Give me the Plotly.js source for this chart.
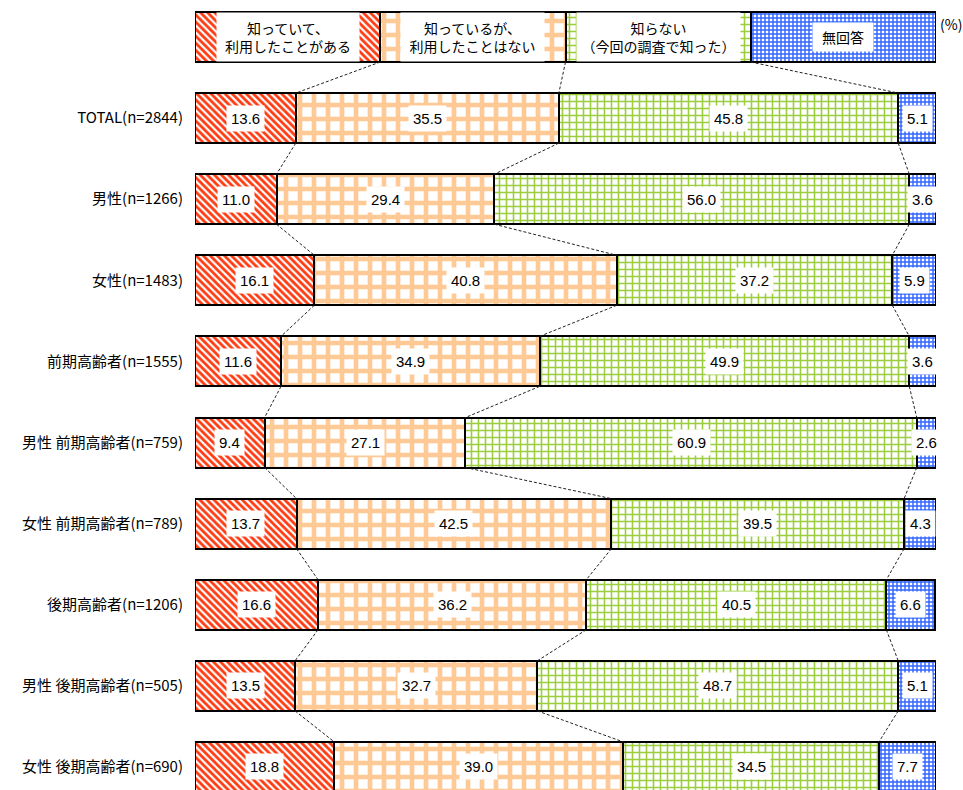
<!DOCTYPE html>
<html>
<head>
<meta charset="utf-8">
<script src="https://cdn.plot.ly/plotly-3.0.1.min.js"></script>
<style>
  body { margin: 0; background: #fff; }
  #chart { width: 963px; height: 790px; }
</style>
</head>
<body>
<div id="chart"></div>
<script>
// rows, top to bottom
var groups = ['TOTAL(n=2844)', '男性(n=1266)', '女性(n=1483)', '前期高齢者(n=1555)',
  '男性 前期高齢者(n=759)', '女性 前期高齢者(n=789)', '後期高齢者(n=1206)',
  '男性 後期高齢者(n=505)', '女性 後期高齢者(n=690)']

var seriesNames = ['知っていて、<br>利用したことがある', '知っているが、<br>利用したことはない',
  '知らない<br>（今回の調査で知った）', '無回答']

var usedIt   = [13.6, 11.0, 16.1, 11.6, 9.4, 13.7, 16.6, 13.5, 18.8]
var knowOnly = [35.5, 29.4, 40.8, 34.9, 27.1, 42.5, 36.2, 32.7, 39.0]
var didntKnow = [45.8, 56.0, 37.2, 49.9, 60.9, 39.5, 40.5, 48.7, 34.5]
var noAnswer = [5.1, 3.6, 5.9, 3.6, 2.6, 4.3, 6.6, 5.1, 7.7]

// the legend is drawn as a stacked row of 4 equal boxes above the bars
var legendShare = 25

var series = [usedIt, knowOnly, didntKnow, noAnswer]

var patterns = [
  {shape: '\\', fgcolor: '#ff3a10', bgcolor: 'white', size: 5, solidity: 0.55},
  {shape: '+', fgcolor: '#ffc995', bgcolor: 'white', size: 14, solidity: 0.55},
  {shape: '+', fgcolor: '#9bcd3c', bgcolor: 'white', size: 7, solidity: 0.4},
  {shape: '+', fgcolor: '#3366ff', bgcolor: 'white', size: 4, solidity: 0.6}
]

// legend label boxes (width/height of the white area)
var legendBox = [[142, 48], [143, 48], [163, 48], [60, 28]]

var barW = 0.617
var rowIdx = groups.map((g, i) => i + 1)

var data = series.map((vals, s) => ({
  type: 'bar',
  orientation: 'h',
  y: [0].concat(rowIdx),
  x: [legendShare].concat(vals),
  width: barW,
  marker: {color: 'white', pattern: patterns[s], line: {color: 'black', width: 2}},
  hoverinfo: 'skip',
  showlegend: false
}))

var annotations = []
var shapes = []

// cumulative boundaries per row, legend row first
var rows = [[legendShare, legendShare, legendShare, legendShare]]
groups.forEach((g, i) => rows.push(series.map(v => v[i])))

rows.forEach((vals, r) => {
  var cum = 0
  vals.forEach((v, s) => {
    var mid = cum + v / 2
    cum += v
    if (r == 0) {
      annotations.push({
        x: mid, y: 0, xref: 'x', yref: 'y', text: seriesNames[s], showarrow: false,
        bgcolor: 'white', borderpad: 0, width: legendBox[s][0], height: legendBox[s][1],
        font: {family: 'Noto Sans CJK JP', size: 14, color: '#000'}
      })
    } else {
      annotations.push({
        x: mid, y: r, xref: 'x', yref: 'y', text: v.toFixed(1), showarrow: false,
        bgcolor: 'white', borderpad: 4,
        font: {family: 'Liberation Sans, Arial', size: 15, color: '#000'}
      })
    }
  })
})

// dashed connectors between neighbouring rows
for (var r = 0; r < rows.length - 1; r++) {
  var a = 0, b = 0
  for (var s = 0; s < 3; s++) {
    a += rows[r][s]
    b += rows[r + 1][s]
    shapes.push({
      type: 'line', xref: 'x', yref: 'y',
      x0: a, y0: r + barW / 2, x1: b, y1: r + 1 - barW / 2,
      line: {color: '#222', width: 1, dash: '3px,2px'}
    })
  }
}

annotations.push({
  x: 1, y: 1, xref: 'paper', yref: 'paper', xanchor: 'left', yanchor: 'top',
  xshift: 2, yshift: -12, text: '(%)', showarrow: false,
  font: {family: 'Noto Sans CJK JP', size: 14, color: '#000'}
})

var layout = {
  width: 963,
  height: 790,
  margin: {l: 195, r: 27, t: 0, b: 0},
  barmode: 'stack',
  paper_bgcolor: 'white',
  plot_bgcolor: 'white',
  xaxis: {range: [0, 100], visible: false, fixedrange: true},
  yaxis: {
    range: [9.284, -0.456],
    tickvals: rowIdx,
    ticktext: groups,
    showgrid: false,
    zeroline: false,
    showline: false,
    ticks: 'outside',
    ticklen: 8,
    tickcolor: 'rgba(0,0,0,0)',
    tickfont: {family: 'Noto Sans CJK JP', size: 15, color: '#000'}
  },
  annotations: annotations,
  shapes: shapes
}

Plotly.newPlot('chart', data, layout, {displayModeBar: false, staticPlot: true})
</script>
</body>
</html>
